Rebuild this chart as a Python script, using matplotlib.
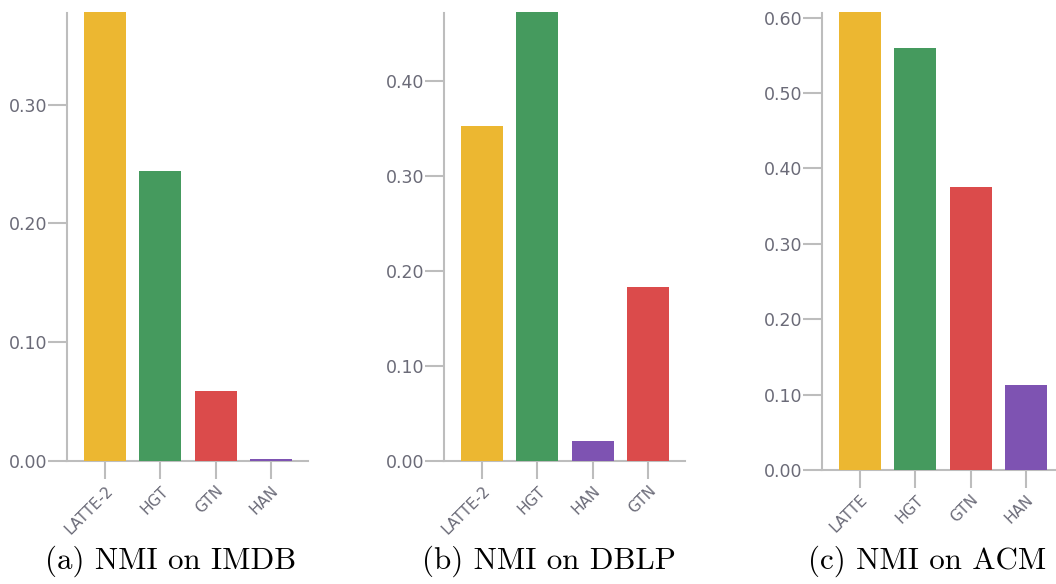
import matplotlib; matplotlib.use("Agg"); import matplotlib.pyplot as plt

# NMI per dataset, in the order shown on each panel
imdb_models = ["LATTE-2", "HGT", "GTN", "HAN"]
imdb_nmi = [0.378, 0.244, 0.059, 0.002]
dblp_models = ["LATTE-2", "HGT", "HAN", "GTN"]
dblp_nmi = [0.353, 0.473, 0.021, 0.183]
acm_models = ["LATTE", "HGT", "GTN", "HAN"]
acm_nmi = [0.607, 0.560, 0.375, 0.113]
captions = ["(a) NMI on IMDB", "(b) NMI on DBLP", "(c) NMI on ACM"]

COL = {"LATTE-2": "#ECB731", "LATTE": "#ECB731", "HGT": "#459A5E",
       "GTN": "#DB4B4B", "HAN": "#7E53B2"}
AX = "#bdbdbd"; TXT = "#6b6b78"

fig = plt.figure(figsize=(10.56, 5.84), dpi=100)
panels = [(imdb_models, imdb_nmi, [0.0634, 0.2106, 0.2282, 0.7671], 0.377, [0, .1, .2, .3], 171),
          (dblp_models, dblp_nmi, [0.4205, 0.2106, 0.2282, 0.7671], 0.4716, [0, .1, .2, .3, .4], 549),
          (acm_models, acm_nmi, [0.7784, 0.1952, 0.2282, 0.7825], 0.606, [0, .1, .2, .3, .4, .5, .6], 927)]

for (models, vals, pos, top, yt, cx), cap in zip(panels, captions):
    ax = fig.add_axes(pos)
    xs = range(len(models))
    ax.bar(xs, vals, width=0.76, color=[COL[m] for m in models], clip_on=False, zorder=3)
    ax.set_xlim(-0.69, 3.67); ax.set_ylim(0, top)
    ax.set_yticks(yt); ax.set_yticklabels([f"{v:.2f}" for v in yt])
    ax.set_xticks(list(xs)); ax.set_xticklabels(models, rotation=45, ha="right", rotation_mode="anchor")
    for s in ["top", "right"]: ax.spines[s].set_visible(False)
    for s in ["left", "bottom"]: ax.spines[s].set_color(AX); ax.spines[s].set_linewidth(1.5)
    ax.tick_params(axis="y", length=14, width=1.5, color=AX, labelcolor=TXT, labelsize=12.5, pad=0)
    ax.tick_params(axis="x", length=13, width=1.5, color=AX, labelcolor=TXT, labelsize=11, pad=3)
    fig.text(cx / 1056, 1 - 561 / 584, cap, family="cmr10", fontsize=22.3, ha="center", va="center")

fig.savefig("out.png", dpi=100)
